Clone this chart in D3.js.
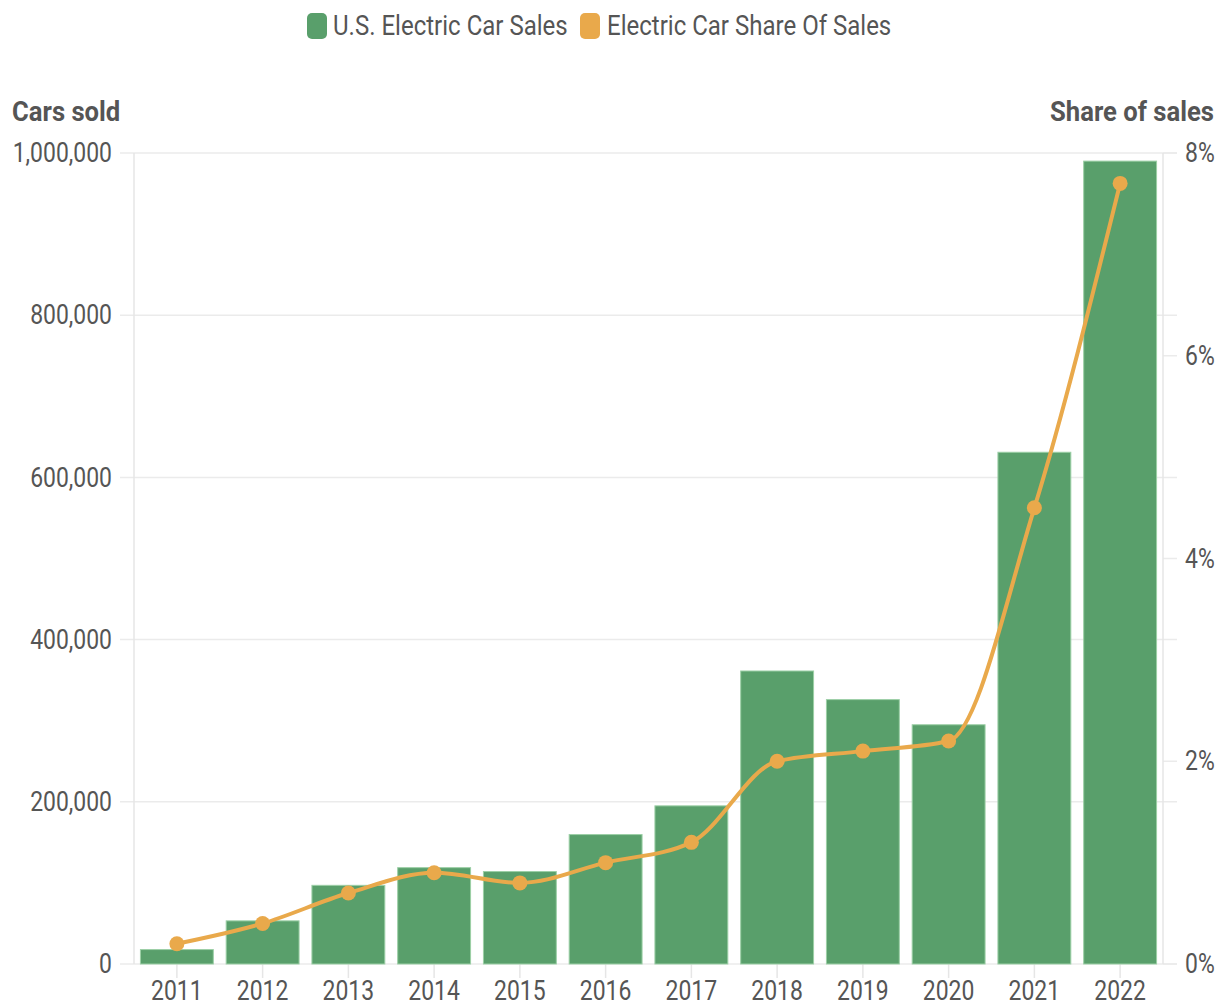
<!DOCTYPE html>
<html>
<head>
<meta charset="utf-8">
<script src="https://cdn.jsdelivr.net/npm/d3@7"></script>
<style>
  html, body { margin: 0; padding: 0; background: #fff; }
  svg text { font-family: Roboto, "Noto Sans", sans-serif; fill: #555; }
</style>
</head>
<body>
<div id="chart"></div>
<script>
// data
const years = ["2011","2012","2013","2014","2015","2016","2017","2018","2019","2020","2021","2022"];
const sales = [17800, 53200, 97000, 118800, 114000, 159600, 195000, 361300, 326000, 295000, 631000, 990000];
const share = [0.2, 0.4, 0.7, 0.9, 0.8, 1.0, 1.2, 2.0, 2.1, 2.2, 4.5, 7.7];
const salesTicks = [0, 200000, 400000, 600000, 800000, 1000000];
const shareTicks = [0, 2, 4, 6, 8];
const seriesNames = ["U.S. Electric Car Sales", "Electric Car Share Of Sales"];

const W = 1222, H = 1004;
const margin = { top: 153, right: 59, bottom: 40, left: 134 };
const green = "#599f6b", orange = "#e9a94b";
// no condensed face installed, so squeeze the text horizontally
const SX = 0.85, SXL = 0.89, SXB = 0.95;

const svg = d3.select("#chart").append("svg")
  .attr("width", W).attr("height", H);

const x = d3.scaleBand()
  .domain(years)
  .range([margin.left, W - margin.right])
  .paddingInner(0.15)
  .paddingOuter(0.075);

const y = d3.scaleLinear()
  .domain([0, 1000000])
  .range([H - margin.bottom, margin.top]);

const y2 = d3.scaleLinear()
  .domain([0, 8])
  .range([H - margin.bottom, margin.top]);

const x0 = margin.left, x1 = W - margin.right, yb = H - margin.bottom;

// gridlines (horizontal, stick out as ticks on the left)
svg.append("g").selectAll("line")
  .data(salesTicks).join("line")
  .attr("x1", x0 - 14).attr("x2", x1 + 14)
  .attr("y1", d => y(d)).attr("y2", d => y(d))
  .attr("stroke", "#ebebeb").attr("stroke-width", 1.5);

// right axis small ticks
svg.append("g").selectAll("line")
  .data(shareTicks).join("line")
  .attr("x1", x1).attr("x2", x1 + 14)
  .attr("y1", d => y2(d)).attr("y2", d => y2(d))
  .attr("stroke", "#ebebeb").attr("stroke-width", 1.5);

// vertical frame lines
[x0, x1].forEach(xx => {
  svg.append("line")
    .attr("x1", xx).attr("x2", xx)
    .attr("y1", margin.top).attr("y2", yb)
    .attr("stroke", "#e6e6e6").attr("stroke-width", 1.5);
});

// bottom tick marks
svg.append("g").selectAll("line")
  .data(years).join("line")
  .attr("x1", d => x(d) + x.bandwidth() / 2).attr("x2", d => x(d) + x.bandwidth() / 2)
  .attr("y1", yb).attr("y2", yb + 14)
  .attr("stroke", "#e6e6e6").attr("stroke-width", 1.5);

// left axis labels
const leftAxis = svg.append("g")
  .attr("transform", `translate(${x0},0)`)
  .call(d3.axisLeft(y).tickValues(salesTicks).tickSize(0).tickFormat(d3.format(",")));
leftAxis.select(".domain").remove();
leftAxis.selectAll("text")
  .attr("x", -22 / SX)
  .attr("transform", `scale(${SX},1)`)
  .style("font-size", "27px")
  .attr("fill", "#555")
  .attr("font-family", null);

// right axis labels
const rightAxis = svg.append("g")
  .attr("transform", `translate(${x1},0)`)
  .call(d3.axisRight(y2).tickValues(shareTicks).tickSize(0).tickFormat(d => d + "%"));
rightAxis.select(".domain").remove();
rightAxis.selectAll("text")
  .attr("x", 22 / SX)
  .attr("transform", `scale(${SX},1)`)
  .style("font-size", "27px")
  .attr("fill", "#555")
  .attr("font-family", null);

// bottom axis labels
const bottomAxis = svg.append("g")
  .attr("transform", `translate(0,${yb})`)
  .call(d3.axisBottom(x).tickSize(0));
bottomAxis.select(".domain").remove();
bottomAxis.selectAll(".tick").each(function() {
  const t = d3.select(this).attr("transform").match(/translate\(([^,]+),/);
  const cx = +t[1];
  d3.select(this).attr("transform", null);
  d3.select(this).select("text")
    .attr("x", cx / SX).attr("y", 36).attr("dy", null)
    .attr("transform", `scale(${SX},1)`)
    .style("font-size", "27px")
    .attr("fill", "#555")
    .attr("font-family", null);
});

// bars
svg.append("g").selectAll("rect")
  .data(years.map((yr, i) => ({ yr, v: sales[i] })))
  .join("rect")
  .attr("x", d => x(d.yr))
  .attr("y", d => y(d.v))
  .attr("width", x.bandwidth())
  .attr("height", d => y(0) - y(d.v))
  .attr("fill", green)
  .attr("stroke", "#9ccfa6")
  .attr("stroke-width", 1);

// share line
const pts = years.map((yr, i) => ({ cx: x(yr) + x.bandwidth() / 2, cy: y2(share[i]) }));
svg.append("path")
  .datum(pts)
  .attr("fill", "none")
  .attr("stroke", orange)
  .attr("stroke-width", 4)
  .attr("d", d3.line().x(d => d.cx).y(d => d.cy).curve(d3.curveMonotoneX));

svg.append("g").selectAll("circle")
  .data(pts).join("circle")
  .attr("cx", d => d.cx).attr("cy", d => d.cy)
  .attr("r", 7.5)
  .attr("fill", orange);

// axis titles
svg.append("text")
  .attr("x", 12 / SXB).attr("y", 121)
  .attr("transform", `scale(${SXB},1)`)
  .style("font-size", "27px").style("font-weight", "bold")
  .text("Cars sold");
svg.append("text")
  .attr("x", 1214 / SXB).attr("y", 121)
  .attr("text-anchor", "end")
  .attr("transform", `scale(${SXB},1)`)
  .style("font-size", "27px").style("font-weight", "bold")
  .text("Share of sales");

// legend
const legend = [
  { name: seriesNames[0], color: green, sx: 307, tx: 333 },
  { name: seriesNames[1], color: orange, sx: 580, tx: 607 }
];
legend.forEach(l => {
  svg.append("rect")
    .attr("x", l.sx).attr("y", 13)
    .attr("width", 20).attr("height", 26).attr("rx", 5)
    .attr("fill", l.color);
  svg.append("text")
    .attr("x", l.tx / SXL).attr("y", 35)
    .attr("transform", `scale(${SXL},1)`)
    .style("font-size", "27px")
    .text(l.name);
});
</script>
</body>
</html>
